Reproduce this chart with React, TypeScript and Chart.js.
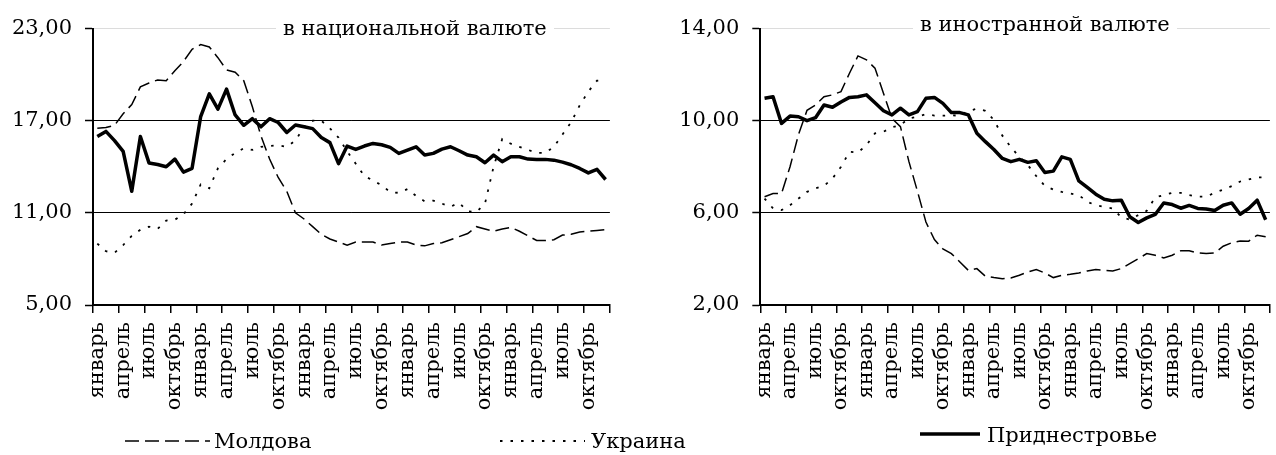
import React, { useEffect, useRef } from "react";
import { Chart, registerables } from "chart.js";

Chart.register(...registerables);

// ---------- data ----------
const months = [
  "январь", "февраль", "март", "апрель", "май", "июнь",
  "июль", "август", "сентябрь", "октябрь", "ноябрь", "декабрь",
];
const yearsCount = 5;
const categories: string[] = [];
for (let y = 0; y < yearsCount; y++) for (const m of months) categories.push(m);

const nationalTicks = [5, 11, 17, 23];
const foreignTicks = [2, 6, 10, 14];

const seriesNames = ["Молдова", "Украина", "Приднестровье"];
const panelTitles = ["в национальной валюте", "в иностранной валюте"];

const moldovaNational = [
  16.5, 16.55, 16.7, 17.45, 18.05, 19.2, 19.45, 19.65, 19.6, 20.25,
  20.85, 21.65, 21.95, 21.8, 21.1, 20.3, 20.15, 19.6, 17.9, 16.0,
  14.5, 13.3, 12.4, 11.0, 10.6, 10.1, 9.6, 9.3, 9.1, 8.9,
  9.1, 9.1, 9.1, 8.9, 9.0, 9.1, 9.1, 8.9, 8.85, 9.0,
  9.05, 9.25, 9.45, 9.65, 10.1, 9.95, 9.8, 9.95, 10.05, 9.8,
  9.5, 9.2, 9.2, 9.25, 9.55, 9.6, 9.75, 9.8, 9.85, 9.9,
];
const ukraineNational = [
  9.0, 8.5, 8.4, 8.9, 9.5, 9.9, 10.1, 9.95, 10.5, 10.55,
  10.9, 11.6, 12.85, 12.6, 13.9, 14.5, 14.9, 15.2, 15.1, 15.3,
  15.35, 15.4, 15.3, 15.7, 16.6, 17.0, 17.0, 16.5, 15.9, 15.0,
  14.2, 13.4, 13.1, 12.8, 12.35, 12.3, 12.55, 12.1, 11.75, 11.8,
  11.6, 11.4, 11.65, 11.1, 11.05, 11.6, 14.0, 15.8, 15.5, 15.3,
  15.1, 14.9, 14.9, 15.3, 16.1, 16.9, 18.0, 18.9, 19.6, 19.65,
];
const pmrNational = [
  15.97, 16.3, 15.7, 15.0, 12.4, 15.97, 14.25, 14.15, 14.0, 14.5,
  13.65, 13.9, 17.27, 18.75, 17.75, 19.05, 17.37, 16.7, 17.13, 16.6,
  17.13, 16.88, 16.23, 16.72, 16.6, 16.48, 15.9, 15.57, 14.2, 15.35,
  15.13, 15.35, 15.52, 15.43, 15.26, 14.87, 15.09, 15.3, 14.76, 14.87,
  15.15, 15.3, 15.04, 14.76, 14.65, 14.26, 14.76, 14.33, 14.65, 14.65,
  14.5, 14.48, 14.48, 14.43, 14.3, 14.13, 13.89, 13.6, 13.83, 13.17,
];

const moldovaForeign = [
  6.7, 6.84, 6.84, 8.0, 9.4, 10.45, 10.68, 11.04, 11.12, 11.26,
  12.06, 12.81, 12.64, 12.28, 11.19, 10.1, 9.74, 8.22, 6.94, 5.6,
  4.84, 4.43, 4.23, 3.87, 3.5, 3.58, 3.25, 3.19, 3.14, 3.17,
  3.29, 3.43, 3.54, 3.39, 3.19, 3.29, 3.33, 3.39, 3.48, 3.54,
  3.51, 3.48, 3.58, 3.8, 4.01, 4.23, 4.16, 4.04, 4.16, 4.35,
  4.35, 4.26, 4.23, 4.26, 4.55, 4.7, 4.78, 4.77, 5.03, 4.96,
];
const ukraineForeign = [
  6.62, 6.19, 6.12, 6.33, 6.62, 6.91, 7.06, 7.17, 7.49, 8.0,
  8.65, 8.62, 8.94, 9.45, 9.52, 9.71, 9.81, 10.1, 10.17, 10.28,
  10.22, 10.22, 10.23, 10.22, 10.42, 10.52, 10.43, 10.03, 9.35, 8.85,
  8.43, 8.07, 7.59, 7.17, 7.01, 6.91, 6.84, 6.77, 6.48, 6.33,
  6.26, 6.19, 5.8, 5.71, 5.9, 6.09, 6.67, 6.77, 6.87, 6.87,
  6.77, 6.7, 6.7, 6.87, 7.01, 7.16, 7.36, 7.45, 7.54, 7.54,
];
const pmrForeign = [
  10.97, 11.04, 9.88, 10.2, 10.17, 10.0, 10.13, 10.68, 10.58, 10.81,
  11.01, 11.04, 11.12, 10.78, 10.43, 10.25, 10.54, 10.25, 10.39, 10.97,
  11.01, 10.75, 10.35, 10.35, 10.25, 9.45, 9.09, 8.75, 8.36, 8.22,
  8.32, 8.19, 8.26, 7.75, 7.81, 8.43, 8.32, 7.39, 7.1, 6.81,
  6.59, 6.52, 6.55, 5.83, 5.58, 5.78, 5.93, 6.43, 6.36, 6.2,
  6.32, 6.19, 6.17, 6.1, 6.33, 6.43, 5.94, 6.19, 6.55, 5.7,
];

// ---------- styling ----------
const FONT = "'DejaVu Serif', serif";
const FONT_SIZE = 21;
const DASH = [14, 6];
const DOT = [2.5, 8];

type PanelProps = {
  left: number;
  width: number;
  height: number;
  yAxisWidth: number;
  padRight: number;
  padTop: number;
  xAxisHeight: number;
  yTicks: number[];
  moldova: number[];
  ukraine: number[];
  pmr: number[];
};

function Panel(p: PanelProps) {
  const ref = useRef<HTMLCanvasElement>(null);
  useEffect(() => {
    if (!ref.current) return;
    const yMin = p.yTicks[0];
    const yMax = p.yTicks[p.yTicks.length - 1];
    const chart = new Chart(ref.current, {
      type: "line",
      data: {
        labels: categories,
        datasets: [
          {
            label: seriesNames[2],
            data: p.pmr,
            borderColor: "#000",
            borderWidth: 3.5,
            pointRadius: 0,
            tension: 0,
            fill: false,
            borderJoinStyle: "round",
          },
          {
            label: seriesNames[0],
            data: p.moldova,
            borderColor: "#000",
            borderWidth: 1.5,
            borderDash: DASH,
            pointRadius: 0,
            tension: 0,
            fill: false,
          },
          {
            label: seriesNames[1],
            data: p.ukraine,
            borderColor: "#000",
            borderWidth: 1.8,
            borderDash: DOT,
            pointRadius: 0,
            tension: 0,
            fill: false,
          },
        ],
      },
      options: {
        animation: false,
        responsive: false,
        events: [],
        layout: {
          padding: { left: 0, right: p.padRight, top: p.padTop, bottom: 0 },
        },
        plugins: {
          legend: { display: false },
          tooltip: { enabled: false },
          title: { display: false },
        },
        scales: {
          x: {
            type: "category",
            offset: true,
            grid: {
              display: true,
              drawOnChartArea: false,
              drawTicks: true,
              tickLength: 8,
              offset: true,
              lineWidth: 1.5,
              color: (ctx: any) =>
                ctx.index === undefined || ctx.index % 3 === 0
                  ? "#000"
                  : "rgba(0,0,0,0)",
            },
            border: { display: true, color: "#000", width: 2 },
            ticks: {
              autoSkip: false,
              minRotation: 90,
              maxRotation: 90,
              padding: 9,
              color: "#000",
              font: { family: FONT, size: FONT_SIZE },
              callback: (_v: any, idx: number) =>
                idx % 3 === 0 ? categories[idx] : "",
            },
            afterFit: (s: any) => {
              s.height = p.xAxisHeight;
            },
          },
          y: {
            type: "linear",
            min: yMin,
            max: yMax,
            afterBuildTicks: (s: any) => {
              s.ticks = p.yTicks.map((v) => ({ value: v }));
            },
            grid: {
              display: true,
              drawTicks: true,
              tickLength: 8,
              lineWidth: 1,
              tickWidth: 1.5,
              tickColor: "#000",
              color: (ctx: any) =>
                ctx.tick && ctx.tick.value === yMax ? "#dcdcdc" : "#000",
            },
            border: { display: true, color: "#000", width: 2 },
            ticks: {
              padding: 13,
              color: "#000",
              font: { family: FONT, size: FONT_SIZE },
              callback: (v: any) => Number(v).toFixed(2).replace(".", ","),
            },
            afterFit: (s: any) => {
              s.width = p.yAxisWidth;
            },
          },
        },
      },
    } as any);
    return () => chart.destroy();
  }, []);
  return (
    <canvas
      ref={ref}
      width={p.width}
      height={p.height}
      style={{
        position: "absolute",
        left: p.left,
        top: 0,
        width: p.width,
        height: p.height,
      }}
    />
  );
}

const textStyle: React.CSSProperties = {
  position: "absolute",
  fontFamily: FONT,
  fontSize: FONT_SIZE,
  lineHeight: `${FONT_SIZE}px`,
  color: "#000",
  whiteSpace: "nowrap",
};

function LegendLine(props: {
  left: number;
  top: number;
  len: number;
  width: number;
  dash?: number[];
}) {
  return (
    <svg
      width={props.len}
      height={10}
      style={{ position: "absolute", left: props.left, top: props.top - 5 }}
    >
      <line
        x1={0}
        y1={5}
        x2={props.len}
        y2={5}
        stroke="#000"
        strokeWidth={props.width}
        strokeDasharray={props.dash ? props.dash.join(" ") : undefined}
      />
    </svg>
  );
}

export default function App() {
  return (
    <div
      style={{
        position: "fixed",
        left: 0,
        top: 0,
        width: 1276,
        height: 455,
        overflow: "hidden",
        background: "#fff",
      }}
    >
      <Panel
        left={0}
        width={640}
        height={455}
        yAxisWidth={93}
        padRight={26}
        padTop={28.5}
        xAxisHeight={150}
        yTicks={nationalTicks}
        moldova={moldovaNational}
        ukraine={ukraineNational}
        pmr={pmrNational}
      />
      <Panel
        left={640}
        width={660}
        height={455}
        yAxisWidth={120.3}
        padRight={17.6}
        padTop={28.5}
        xAxisHeight={150}
        yTicks={foreignTicks}
        moldova={moldovaForeign}
        ukraine={ukraineForeign}
        pmr={pmrForeign}
      />
      <div
        style={{
          ...textStyle,
          left: 276,
          top: 18,
          padding: "0 7px",
          background: "#fff",
        }}
      >
        {panelTitles[0]}
      </div>
      <div
        style={{
          ...textStyle,
          left: 913,
          top: 14,
          padding: "0 7px",
          background: "#fff",
        }}
      >
        {panelTitles[1]}
      </div>

      <LegendLine left={125} top={441} len={85} width={1.5} dash={DASH} />
      <div style={{ ...textStyle, left: 214, top: 431 }}>{seriesNames[0]}</div>

      <LegendLine left={500} top={441} len={85} width={1.8} dash={DOT} />
      <div style={{ ...textStyle, left: 591, top: 431 }}>{seriesNames[1]}</div>

      <LegendLine left={920} top={434} len={60} width={3.5} />
      <div style={{ ...textStyle, left: 987, top: 424.5 }}>{seriesNames[2]}</div>
    </div>
  );
}
